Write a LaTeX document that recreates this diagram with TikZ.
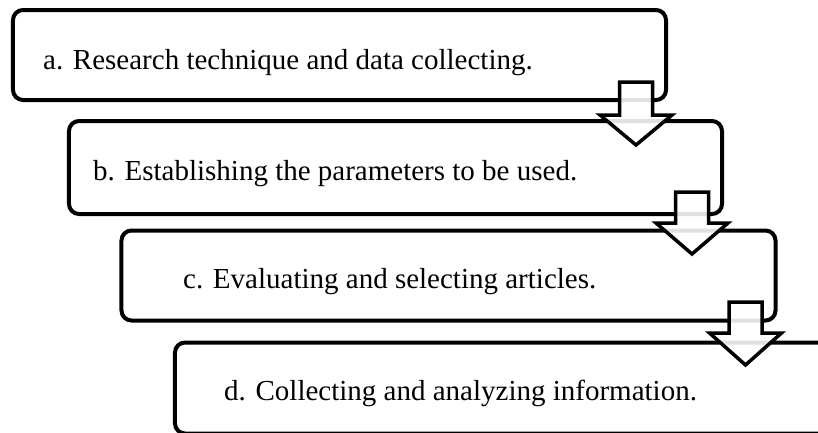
\documentclass[tikz,border=0pt]{standalone}
\usepackage{fontspec}
\setmainfont{Liberation Serif}
\begin{document}
\begin{tikzpicture}[x=1bp,y=-1bp,
  box/.style={draw=black, line width=4bp, rounded corners=10bp, fill=white, inner sep=0pt, outer sep=0pt},
  lbl/.style={anchor=base west, inner sep=0pt, font=\fontsize{29bp}{34bp}\selectfont},
  blockarrow/.style={draw=black, line width=3.5bp, fill=white, fill opacity=0.88, line join=miter}
]
\clip (0,0) rectangle (818,432);
\fill[white] (0,0) rectangle (818,432);
% boxes
\node[box, minimum width=653bp, minimum height=90bp] (ba) at (339.5,55) {};
\node[box, minimum width=653bp, minimum height=93bp] (bb) at (395.5,167.5) {};
\node[box, minimum width=654bp, minimum height=90bp] (bc) at (448.5,275.5) {};
\node[box, minimum width=654bp, minimum height=91bp] (bd) at (502,388) {};
% labels
\node[lbl] (ta) at (43,69) {a. Research technique and data collecting.};
\node[lbl] (tb) at (93,180) {b. Establishing the parameters to be used.};
\node[lbl] (tc) at (183,288) {c. Evaluating and selecting articles.};
\node[lbl] (td) at (224,400) {d. Collecting and analyzing information.};
% block arrows
\newcommand{\blockarr}[4]{%
  \draw[blockarrow] (#1-16.5,#2) -- (#1+16.5,#2) -- (#1+16.5,#3) -- (#1+36,#3) -- (#1,#4) -- (#1-36,#3) -- (#1-16.5,#3) -- cycle;}
\blockarr{636}{82}{115}{145}
\blockarr{692}{192}{223}{254}
\blockarr{745.5}{302}{333}{365}
\end{tikzpicture}
\end{document}
